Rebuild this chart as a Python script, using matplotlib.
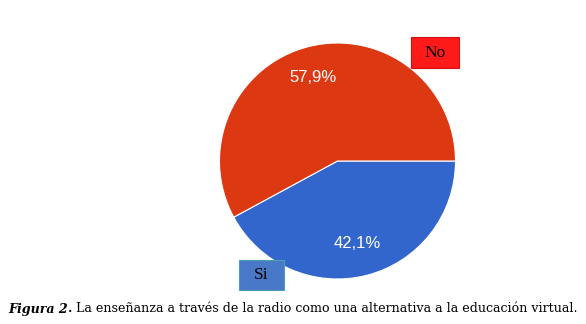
import numpy as np
import matplotlib.pyplot as plt
from matplotlib.patches import Rectangle

# data
labels = ['Si', 'No']
values = [42.1, 57.9]
pct_text = ['42,1%', '57,9%']
colors = ['#3366cc', '#dc3912']
caption_bold = 'Figura 2'
caption_rest = 'La enseñanza a través de la radio como una alternativa a la educación virtual.'

W, H = 586, 324
fig = plt.figure(figsize=(W / 100, H / 100), dpi=100)
ax = fig.add_axes([0, 0, 1, 1])
ax.set_xlim(0, W)
ax.set_ylim(0, H)
ax.axis('off')

cx, cy, r = 337.5, H - 161, 118
wedges, _ = ax.pie(values, colors=colors, startangle=0, counterclock=False,
                   center=(cx, cy), radius=r,
                   wedgeprops=dict(edgecolor='white', linewidth=0.8))
ax.set_xlim(0, W)
ax.set_ylim(0, H)
ax.set_aspect('auto')

# percent labels
ax.text(357, H - 243, pct_text[0], color='white', fontsize=12, ha='center', va='center',
        family='Liberation Sans')
ax.text(313, H - 78, pct_text[1], color='white', fontsize=12, ha='center', va='center',
        family='Liberation Sans')

# label boxes
ax.add_patch(Rectangle((411, H - 68), 48, 31, facecolor='#ff1a1a', edgecolor='#d01010', lw=0.8))
ax.text(435, H - 53, labels[1], fontsize=12.5, family='Liberation Serif', ha='center', va='center')
ax.add_patch(Rectangle((239, H - 290), 45, 30, facecolor='#4a78c8', edgecolor='#4aa0b0', lw=0.8))
ax.text(261, H - 275, labels[0], fontsize=12.5, family='Liberation Serif', ha='center', va='center')

# caption, scaled to fit from x=8 to x=580
def draw_caption(fs):
    r_ = fig.canvas.get_renderer()
    y = 1 - 309 / H
    t1 = fig.text(8 / W, y, caption_bold, fontsize=fs, family='DejaVu Serif',
                  fontweight='bold', fontstyle='italic', va='center')
    x1 = t1.get_window_extent(r_).x1
    t2 = fig.text(x1 / W, y, '. ', fontsize=fs, family='DejaVu Serif',
                  fontweight='bold', va='center')
    x2 = t2.get_window_extent(r_).x1
    t3 = fig.text(x2 / W, y, caption_rest, fontsize=fs, family='DejaVu Serif', va='center')
    return [t1, t2, t3], t3.get_window_extent(r_).x1

texts, xe = draw_caption(10)
fs = 10 * (580 - 8) / (xe - 8)
for t in texts:
    t.remove()
draw_caption(fs)

fig.savefig('out.png', dpi=100)
